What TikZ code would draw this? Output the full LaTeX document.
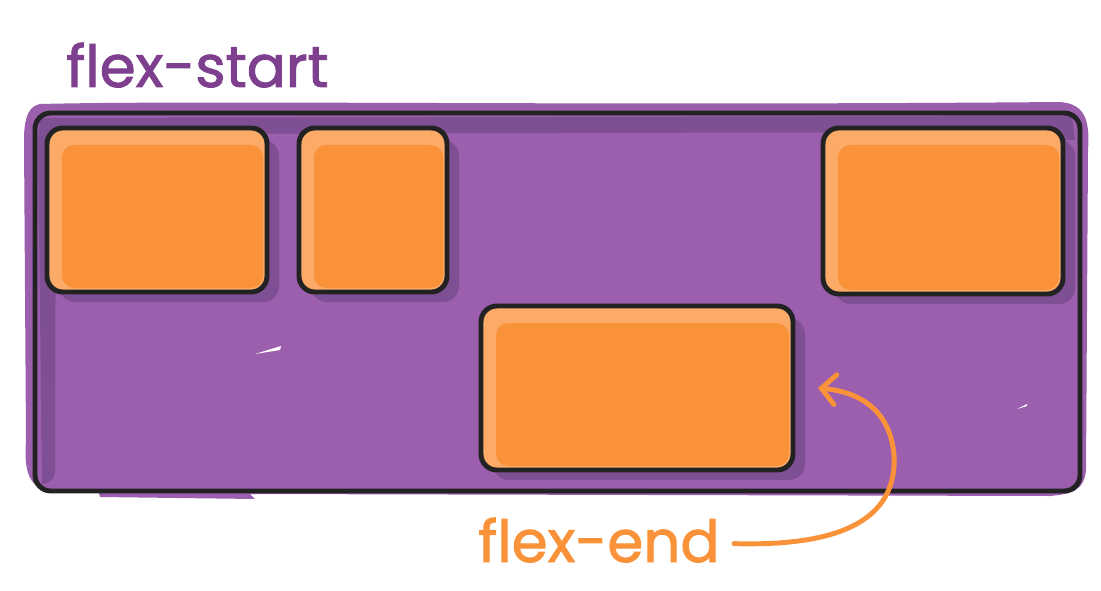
\documentclass[tikz,border=0pt]{standalone}
\usepackage{fontspec}
\setmainfont{Poppins}
\newfontfamily\flexfont[FakeBold=1.6]{Poppins}
\usetikzlibrary{arrows.meta,positioning}

\definecolor{flexpurple}{HTML}{9B5FAE}
\definecolor{flexshade}{HTML}{7F4F93}
\definecolor{flexorange}{HTML}{F99239}
\definecolor{flexlight}{HTML}{FBAA68}
\definecolor{flexink}{HTML}{222222}
\definecolor{flexlabel}{HTML}{7E3F8F}

\tikzset{
  inkline/.style={draw=flexink, line width=2.8pt, rounded corners=9pt},
  labeltext/.style={font=\flexfont\fontsize{33}{33}\selectfont, inner sep=0pt, anchor=base west},
  curvearrow/.style={draw=flexorange, line width=2.8pt, line cap=round,
    -{Straight Barb[length=8pt, width=17pt, line cap=round]}}
}

% one orange item: shadow, highlight, body and outline
\newcommand{\flexitem}[5]{%
  \fill[flexshade, rounded corners=9pt] (#2+12,#3+12) rectangle (#4+12,#5+10);
  \fill[flexlight, rounded corners=9pt] (#2,#3) rectangle (#4,#5);
  \fill[flexorange, rounded corners=7pt] (#2+15,#3+17) rectangle (#4-4,#5-4);
  \draw[inkline] (#2,#3) rectangle (#4,#5);
  \path (#2,#3) coordinate (#1-nw) (#4,#5) coordinate (#1-se)
    (#4,#3/2+#5/2) coordinate (#1-east);
}

\begin{document}
\begin{tikzpicture}[x=0.02cm, y=-0.02cm]
    \useasboundingbox (0,0) rectangle (1101,591);
    % container
    \fill[flexpurple] (40,104) .. controls (200,100) and (600,106) .. (1060,102)
      .. controls (1085,104) and (1090,120) .. (1088,150) -- (1086,470)
      .. controls (1084,492) and (1070,494) .. (1050,496) -- (250,494)
      -- (255,499) -- (100,497) -- (98,490) -- (50,490)
      .. controls (28,488) and (24,470) .. (26,440) -- (24,140)
      .. controls (24,115) and (30,106) .. (40,104) -- cycle;
    \fill[white] (255,354) -- (281,346) -- (280,350) -- cycle;
    \fill[white] (1017,409) -- (1027,404) -- (1027,406) -- cycle;
    \fill[flexshade] (40,118) -- (1072,116) -- (1075,140) -- (1064,140)
      -- (1062,132) -- (56,134) -- (55,470) .. controls (55,480) and (48,484) .. (42,484)
      -- (38,140) -- cycle;
    \draw[inkline] (35,113) rectangle (1080,491);
    % items
    \flexitem{itemA}{47}{128}{267}{292}
    \flexitem{itemB}{299}{128}{447}{292}
    \flexitem{itemC}{823}{128}{1063}{294}
    \flexitem{itemD}{481}{306}{793}{470}
    \coordinate[right=25 of itemD-east] (endtip);
    % labels
    \node[labeltext, text=flexlabel] (startlbl) at (66,87) {flex-start};
    \node[labeltext, text=flexorange] (endlbl) at (478,562) {flex-end};
    \coordinate (endtail) at ([xshift=8pt,yshift=-2pt]endlbl.east);
    \draw[curvearrow] (endtail) .. controls (820,546) and (898,530) .. (894,455)
      .. controls (890,410) and (860,392) .. (endtip);
\end{tikzpicture}
\end{document}
